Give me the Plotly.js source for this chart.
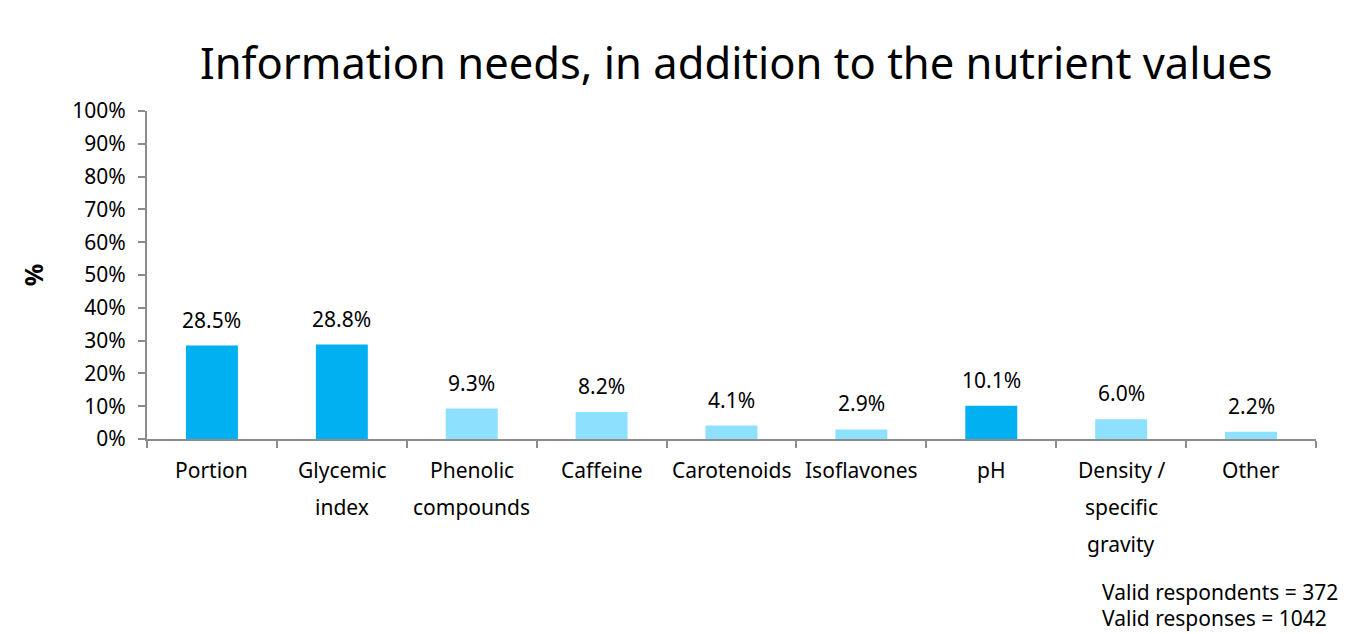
<!DOCTYPE html>
<html>
<head>
<meta charset="utf-8">
<script src="https://cdn.plot.ly/plotly-3.0.1.min.js"></script>
<style>html,body{margin:0;padding:0;background:#fff;}#chart{width:1351px;height:634px;}</style>
</head>
<body>
<div id="chart"></div>
<script>
var categories = ["Portion", "Glycemic index", "Phenolic compounds", "Caffeine", "Carotenoids", "Isoflavones", "pH", "Density / specific gravity", "Other"];
var labelLines = [["Portion"], ["Glycemic", "index"], ["Phenolic", "compounds"], ["Caffeine"], ["Carotenoids"], ["Isoflavones"], ["pH"], ["Density /", "specific", "gravity"], ["Other"]];
var values = [28.5, 28.8, 9.3, 8.2, 4.1, 2.9, 10.1, 6.0, 2.2];
var highlighted = [true, true, false, false, false, false, true, false, false];
var yTicks = [0, 10, 20, 30, 40, 50, 60, 70, 80, 90, 100];
var yTickLabels = yTicks.map(function (v) { return v + "%"; });
var notes = ["Valid respondents = 372", "Valid responses = 1042"];

var FONT = "Noto Sans, Open Sans, sans-serif";
var dark = "#00B0F0", light = "#8EE0FF";

var trace = {
  type: "bar",
  x: categories,
  y: values,
  marker: { color: highlighted.map(function (h) { return h ? dark : light; }) },
  hoverinfo: "none"
};

var annotations = [];
values.forEach(function (v, i) {
  annotations.push({
    x: categories[i], y: v, xref: "x", yref: "y",
    text: v.toFixed(1) + "%", showarrow: false,
    yanchor: "bottom", yshift: 10,
    font: { family: FONT, size: 21, color: "#000" }
  });
});
labelLines.forEach(function (lines, i) {
  lines.forEach(function (t, j) {
    annotations.push({
      x: categories[i], y: 0, xref: "x", yref: "y",
      text: t, showarrow: false,
      yanchor: "middle", yshift: -31 - 37 * j,
      font: { family: FONT, size: 21, color: "#000" }
    });
  });
});
notes.forEach(function (t, j) {
  annotations.push({
    x: 1, y: 0, xref: "paper", yref: "paper",
    text: t, showarrow: false, xanchor: "left", align: "left", yanchor: "middle",
    xshift: -216, yshift: -153 - 26 * j,
    font: { family: FONT, size: 21, color: "#000" }
  });
});

var layout = {
  width: 1351, height: 634,
  margin: { l: 147, r: 35, t: 111, b: 195 },
  paper_bgcolor: "#fff", plot_bgcolor: "#fff",
  bargap: 0.6,
  showlegend: false,
  title: {
    text: "Information needs, in addition to the nutrient values",
    font: { family: FONT, size: 43.5, color: "#000" },
    x: 0.545, xanchor: "center", y: 0.9, yanchor: "middle"
  },
  xaxis: {
    type: "category",
    categoryorder: "array", categoryarray: categories,
    showticklabels: false,
    showline: true, linecolor: "#8c8c8c", linewidth: 2,
    ticks: "outside", tickson: "boundaries", ticklen: 7, tickcolor: "#8c8c8c", tickwidth: 2,
    showgrid: false, zeroline: false, fixedrange: true
  },
  yaxis: {
    range: [0, 100],
    tickvals: yTicks, ticktext: yTickLabels,
    tickfont: { family: FONT, size: 21, color: "#000" },
    ticklabelstandoff: 8,
    showline: true, linecolor: "#8c8c8c", linewidth: 2,
    ticks: "outside", ticklen: 7, tickcolor: "#8c8c8c", tickwidth: 2,
    showgrid: false, zeroline: false, fixedrange: true,
    title: { text: "<b>%</b>", font: { family: FONT, size: 25, color: "#000" }, standoff: 22 }
  },
  annotations: annotations
};

Plotly.newPlot("chart", [trace], layout, { displayModeBar: false, staticPlot: true });
</script>
</body>
</html>
